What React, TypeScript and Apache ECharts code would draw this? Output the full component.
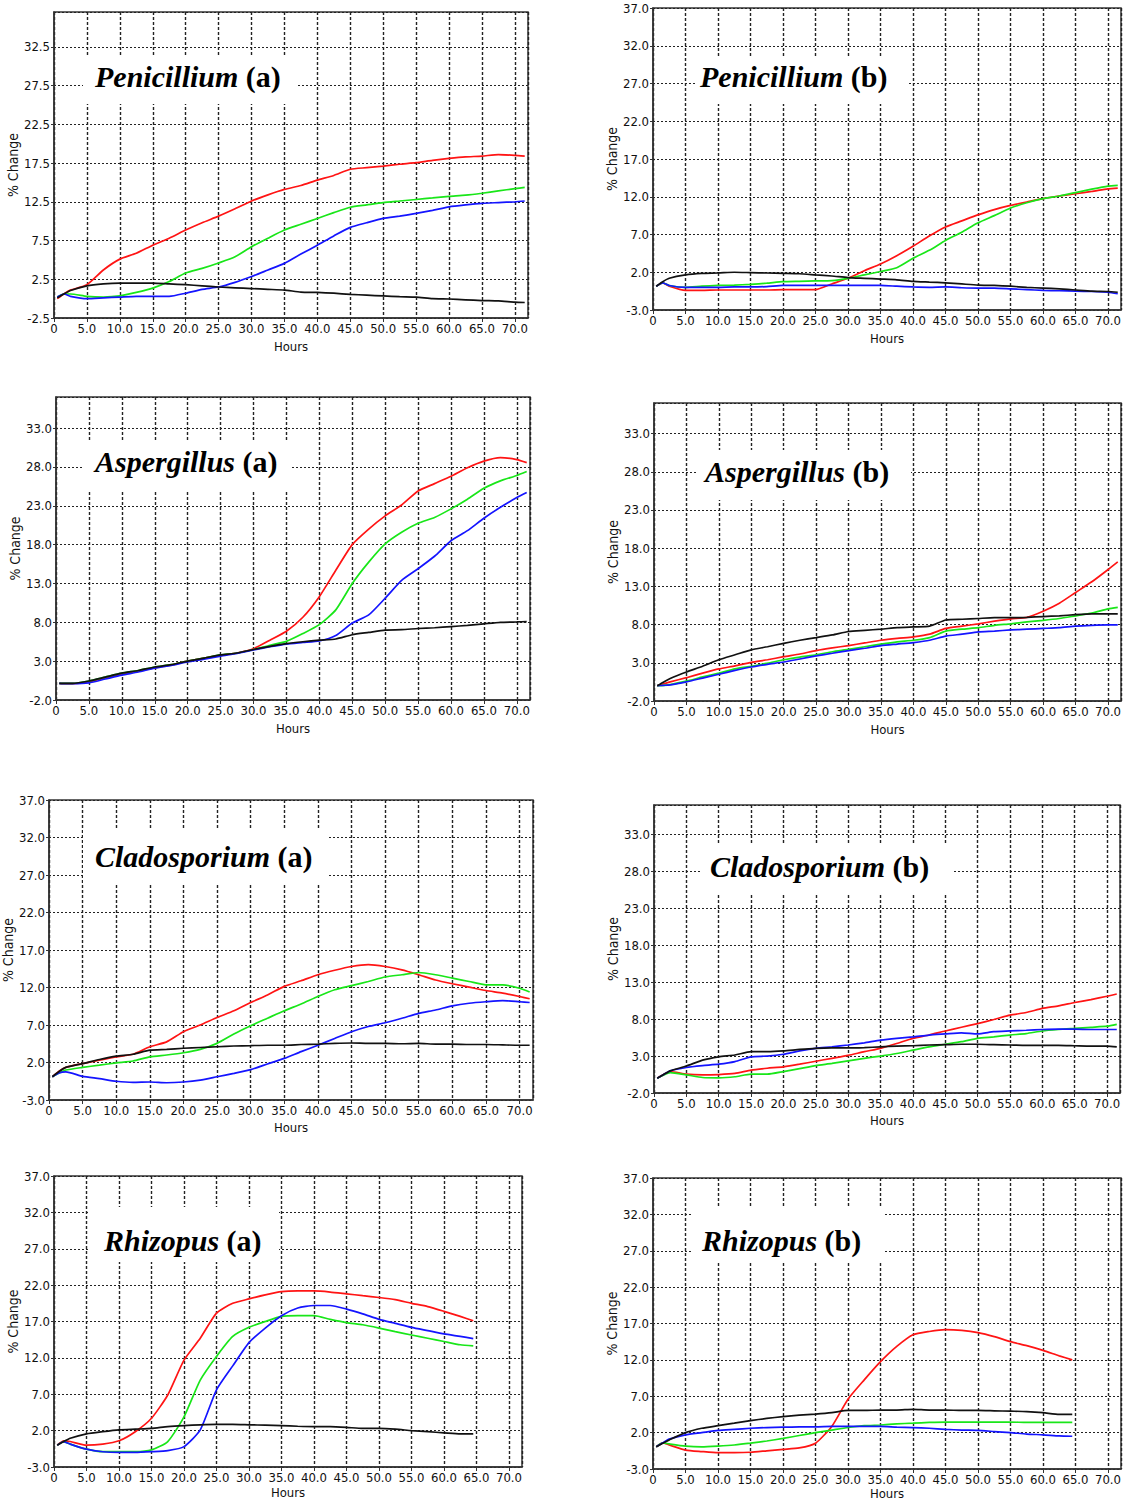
import React, { useEffect, useRef } from "react";
import * as echarts from "echarts";

// ---------- DATA ----------
const HOURS_72 = [0.5, 1.5, 2.5, 5, 7.5, 10, 12.5, 15, 17.5, 20, 22.5, 25, 27.5, 30, 32.5, 35, 37.5, 40, 42.5, 45, 47.5, 50, 52.5, 55, 57.5, 60, 62.5, 65, 67.5, 70, 71.5];
const HOURS_65 = [0.5, 1.5, 2.5, 5, 7.5, 10, 12.5, 15, 17.5, 20, 22.5, 25, 27.5, 30, 32.5, 35, 37.5, 40, 42.5, 45, 47.5, 50, 52.5, 55, 57.5, 60, 62.5, 64.5];

// Penicillium (a)
const PEN_A_RED = [0.0, 0.6, 1.1, 1.8, 3.7, 5.1, 5.85, 6.9, 7.8, 8.85, 9.8, 10.65, 11.6, 12.6, 13.4, 14.1, 14.6, 15.3, 15.9, 16.7, 16.9, 17.1, 17.35, 17.55, 17.85, 18.1, 18.3, 18.4, 18.6, 18.5, 18.4];
const PEN_A_GREEN = [0.2, 0.6, 0.6, 0.3, 0.2, 0.35, 0.8, 1.35, 2.2, 3.3, 3.9, 4.6, 5.4, 6.7, 7.8, 8.85, 9.6, 10.35, 11.1, 11.8, 12.1, 12.4, 12.6, 12.8, 13.0, 13.2, 13.35, 13.6, 13.9, 14.2, 14.35];
const PEN_A_BLUE = [0.2, 0.6, 0.3, 0.0, 0.1, 0.2, 0.3, 0.3, 0.3, 0.7, 1.2, 1.5, 2.1, 2.85, 3.7, 4.55, 5.75, 6.9, 8.1, 9.2, 9.8, 10.35, 10.65, 11.0, 11.4, 11.85, 12.1, 12.3, 12.4, 12.5, 12.6];
const PEN_A_BLACK = [0.1, 0.6, 1.05, 1.65, 1.9, 2.0, 2.0, 2.0, 1.9, 1.8, 1.65, 1.5, 1.4, 1.3, 1.2, 1.1, 0.85, 0.8, 0.7, 0.55, 0.45, 0.35, 0.25, 0.2, 0.0, -0.05, -0.15, -0.25, -0.3, -0.45, -0.5];

// Penicillium (b)
const PEN_B_RED = [0.15, 0.6, 0.15, -0.4, -0.4, -0.35, -0.35, -0.35, -0.35, -0.3, -0.3, -0.3, 0.45, 1.2, 2.2, 3.1, 4.2, 5.45, 6.8, 8.0, 8.8, 9.6, 10.3, 10.85, 11.3, 11.75, 12.1, 12.4, 12.7, 13.05, 13.15];
const PEN_B_GREEN = [0.15, 0.6, 0.25, 0.0, 0.15, 0.25, 0.3, 0.4, 0.55, 0.75, 0.8, 0.85, 0.9, 1.2, 1.65, 2.1, 2.6, 3.85, 4.9, 6.2, 7.3, 8.55, 9.5, 10.5, 11.2, 11.75, 12.1, 12.55, 13.0, 13.4, 13.5];
const PEN_B_BLUE = [0.15, 0.6, 0.25, 0.0, 0.0, 0.0, 0.05, 0.05, 0.1, 0.25, 0.25, 0.25, 0.25, 0.25, 0.25, 0.25, 0.15, 0.05, 0.0, 0.05, -0.05, -0.1, -0.1, -0.2, -0.3, -0.4, -0.45, -0.5, -0.55, -0.65, -0.85];
const PEN_B_BLACK = [0.15, 0.75, 1.2, 1.65, 1.85, 1.9, 2.0, 1.95, 1.9, 1.85, 1.8, 1.65, 1.5, 1.3, 1.2, 1.1, 1.0, 0.8, 0.7, 0.6, 0.45, 0.3, 0.25, 0.15, 0.0, -0.1, -0.2, -0.35, -0.5, -0.55, -0.65];

// Aspergillus (a)
const ASP_A_RED = [0.15, 0.1, 0.1, 0.35, 0.85, 1.35, 1.75, 2.15, 2.5, 3.0, 3.4, 3.75, 4.05, 4.6, 5.7, 6.85, 8.65, 11.3, 14.7, 18.0, 20.0, 21.7, 23.1, 24.9, 25.85, 26.8, 27.9, 28.75, 29.2, 28.95, 28.55];
const ASP_A_GREEN = [0.15, 0.15, 0.15, 0.45, 0.95, 1.45, 1.8, 2.25, 2.55, 3.0, 3.4, 3.8, 4.05, 4.5, 5.05, 5.55, 6.55, 7.7, 9.6, 13.0, 15.75, 18.1, 19.6, 20.75, 21.5, 22.6, 23.85, 25.25, 26.2, 26.9, 27.4];
const ASP_A_BLUE = [0.15, 0.1, 0.1, 0.2, 0.7, 1.2, 1.6, 2.1, 2.45, 2.9, 3.25, 3.65, 4.0, 4.45, 4.85, 5.2, 5.4, 5.6, 6.3, 7.9, 8.95, 11.1, 13.4, 14.9, 16.5, 18.5, 19.8, 21.4, 22.8, 24.05, 24.7];
const ASP_A_BLACK = [0.15, 0.15, 0.15, 0.45, 0.95, 1.45, 1.8, 2.25, 2.55, 3.0, 3.4, 3.8, 4.05, 4.5, 4.9, 5.25, 5.5, 5.7, 5.85, 6.4, 6.7, 7.0, 7.05, 7.2, 7.3, 7.45, 7.6, 7.8, 8.0, 8.05, 8.1];

// Aspergillus (b)
const ASP_B_RED = [0.0, 0.25, 0.5, 1.05, 1.65, 2.2, 2.6, 3.05, 3.4, 3.8, 4.15, 4.6, 4.95, 5.25, 5.6, 5.95, 6.2, 6.4, 6.75, 7.5, 7.8, 8.1, 8.45, 8.75, 8.95, 9.75, 10.8, 12.2, 13.6, 15.2, 16.2];
const ASP_B_GREEN = [0.0, 0.05, 0.15, 0.6, 1.15, 1.65, 2.2, 2.55, 2.95, 3.4, 3.75, 4.05, 4.45, 4.75, 5.1, 5.45, 5.75, 5.95, 6.3, 7.15, 7.4, 7.6, 7.9, 8.1, 8.35, 8.55, 8.8, 9.15, 9.5, 10.05, 10.25];
const ASP_B_BLUE = [0.0, 0.05, 0.1, 0.5, 1.0, 1.5, 2.0, 2.45, 2.8, 3.1, 3.5, 3.9, 4.25, 4.6, 4.9, 5.25, 5.45, 5.65, 5.95, 6.5, 6.75, 7.05, 7.15, 7.3, 7.4, 7.5, 7.6, 7.8, 7.9, 7.95, 7.95];
const ASP_B_BLACK = [0.0, 0.5, 0.95, 1.8, 2.55, 3.4, 4.05, 4.7, 5.1, 5.55, 5.95, 6.3, 6.65, 7.1, 7.25, 7.4, 7.6, 7.7, 7.8, 8.6, 8.7, 8.8, 8.9, 8.9, 8.95, 9.05, 9.15, 9.3, 9.4, 9.4, 9.4];

// Cladosporium (a)
const CLA_A_RED = [0.1, 0.85, 1.35, 1.85, 2.3, 2.75, 3.1, 4.1, 4.75, 6.1, 7.0, 8.0, 8.9, 10.0, 11.0, 12.15, 12.9, 13.7, 14.3, 14.8, 15.05, 14.8, 14.35, 13.7, 13.0, 12.5, 12.05, 11.6, 11.25, 10.8, 10.5];
const CLA_A_GREEN = [0.1, 0.6, 1.0, 1.35, 1.65, 1.95, 2.2, 2.75, 3.0, 3.3, 3.75, 4.55, 5.8, 6.9, 7.9, 8.9, 9.8, 10.8, 11.7, 12.25, 12.8, 13.4, 13.7, 14.0, 13.7, 13.25, 12.8, 12.35, 12.35, 11.9, 11.4];
const CLA_A_BLUE = [0.1, 0.6, 0.75, 0.15, -0.15, -0.5, -0.65, -0.6, -0.7, -0.6, -0.35, 0.1, 0.55, 1.05, 1.8, 2.55, 3.45, 4.3, 5.2, 6.1, 6.8, 7.3, 7.9, 8.55, 9.0, 9.55, 9.9, 10.1, 10.25, 10.1, 10.0];
const CLA_A_BLACK = [0.1, 0.8, 1.35, 1.85, 2.4, 2.85, 3.1, 3.65, 3.75, 3.9, 4.0, 4.1, 4.2, 4.25, 4.3, 4.3, 4.4, 4.45, 4.55, 4.6, 4.55, 4.55, 4.5, 4.55, 4.45, 4.45, 4.4, 4.4, 4.35, 4.3, 4.3];

// Cladosporium (b)
const CLA_B_RED = [0.0, 0.5, 0.9, 0.55, 0.45, 0.5, 0.65, 1.1, 1.35, 1.55, 1.9, 2.3, 2.7, 3.1, 3.6, 4.05, 4.7, 5.4, 5.85, 6.4, 6.9, 7.4, 7.95, 8.55, 8.9, 9.45, 9.8, 10.25, 10.65, 11.1, 11.4];
const CLA_B_GREEN = [0.0, 0.45, 0.75, 0.45, 0.1, 0.05, 0.2, 0.55, 0.55, 0.9, 1.3, 1.7, 2.0, 2.35, 2.7, 3.0, 3.35, 3.8, 4.25, 4.6, 4.95, 5.4, 5.6, 5.85, 6.05, 6.4, 6.6, 6.75, 6.9, 7.05, 7.3];
const CLA_B_BLUE = [0.0, 0.5, 1.0, 1.45, 1.7, 1.9, 2.25, 2.9, 3.0, 3.25, 3.7, 4.05, 4.25, 4.5, 4.8, 5.15, 5.4, 5.6, 5.85, 6.0, 6.15, 6.0, 6.3, 6.4, 6.5, 6.6, 6.65, 6.65, 6.6, 6.6, 6.6];
const CLA_B_BLACK = [0.0, 0.5, 1.0, 1.65, 2.45, 2.9, 3.15, 3.6, 3.6, 3.7, 3.9, 4.05, 4.1, 4.1, 4.15, 4.25, 4.35, 4.4, 4.5, 4.55, 4.6, 4.6, 4.55, 4.5, 4.45, 4.45, 4.45, 4.4, 4.35, 4.35, 4.25];

// Rhizopus (a)
const RHI_A_RED = [0.0, 0.6, 0.5, 0.0, 0.15, 0.6, 1.85, 3.7, 6.9, 11.7, 14.7, 18.15, 19.5, 20.1, 20.65, 21.1, 21.2, 21.2, 21.05, 20.8, 20.55, 20.3, 20.0, 19.5, 19.05, 18.4, 17.7, 17.1];
const RHI_A_GREEN = [0.0, 0.5, 0.15, -0.55, -0.9, -0.9, -0.9, -0.65, 0.5, 3.9, 8.95, 12.2, 14.95, 16.2, 17.0, 17.7, 17.8, 17.8, 17.3, 16.85, 16.55, 16.1, 15.6, 15.15, 14.7, 14.25, 13.8, 13.65];
const RHI_A_BLUE = [0.0, 0.5, 0.15, -0.55, -0.9, -1.0, -1.0, -0.9, -0.75, -0.2, 2.1, 7.6, 10.9, 14.1, 16.1, 17.8, 18.85, 19.2, 19.2, 18.7, 18.05, 17.3, 16.75, 16.2, 15.75, 15.3, 14.95, 14.65];
const RHI_A_BLACK = [0.0, 0.5, 0.95, 1.55, 1.85, 2.1, 2.2, 2.3, 2.55, 2.7, 2.8, 2.85, 2.85, 2.8, 2.75, 2.7, 2.6, 2.55, 2.55, 2.45, 2.3, 2.3, 2.2, 2.0, 1.85, 1.7, 1.55, 1.55];

// Rhizopus (b)
const RHI_B_RED = [0.05, 0.6, 0.3, -0.4, -0.6, -0.75, -0.75, -0.7, -0.5, -0.3, -0.1, 0.55, 2.85, 6.6, 9.25, 11.75, 13.85, 15.45, 15.9, 16.15, 16.05, 15.75, 15.2, 14.5, 13.95, 13.3, 12.55, 12.0];
const RHI_B_GREEN = [0.05, 0.6, 0.45, 0.15, 0.05, 0.15, 0.3, 0.55, 0.85, 1.2, 1.6, 2.0, 2.35, 2.7, 2.95, 3.05, 3.2, 3.3, 3.4, 3.45, 3.45, 3.45, 3.45, 3.45, 3.4, 3.4, 3.4, 3.4];
const RHI_B_BLUE = [0.05, 0.6, 1.1, 1.7, 2.0, 2.3, 2.45, 2.6, 2.7, 2.75, 2.8, 2.8, 2.85, 2.85, 2.85, 2.85, 2.75, 2.7, 2.6, 2.45, 2.35, 2.3, 2.15, 2.0, 1.8, 1.7, 1.55, 1.5];
const RHI_B_BLACK = [0.05, 0.55, 1.0, 2.0, 2.6, 2.95, 3.3, 3.65, 3.95, 4.2, 4.4, 4.55, 4.75, 5.05, 5.05, 5.1, 5.1, 5.2, 5.1, 5.1, 5.05, 5.05, 5.0, 4.95, 4.9, 4.75, 4.5, 4.5];

const GENERA = ["Penicillium", "Penicillium", "Aspergillus", "Aspergillus", "Cladosporium", "Cladosporium", "Rhizopus", "Rhizopus"];
const TAGS = ["(a)", "(b)", "(a)", "(b)", "(a)", "(b)", "(a)", "(b)"];
const Y_MINS = [-2.5, -3, -2, -2, -3, -2, -3, -3];
const Y_MAX = 37;
const X_MAX = 72;
const TICK_STEP = 5;
const PANEL_HOURS = [HOURS_72, HOURS_72, HOURS_72, HOURS_72, HOURS_72, HOURS_72, HOURS_65, HOURS_65];
const PANEL_SERIES = [
  [PEN_A_RED, PEN_A_GREEN, PEN_A_BLUE, PEN_A_BLACK],
  [PEN_B_RED, PEN_B_GREEN, PEN_B_BLUE, PEN_B_BLACK],
  [ASP_A_RED, ASP_A_GREEN, ASP_A_BLUE, ASP_A_BLACK],
  [ASP_B_RED, ASP_B_GREEN, ASP_B_BLUE, ASP_B_BLACK],
  [CLA_A_RED, CLA_A_GREEN, CLA_A_BLUE, CLA_A_BLACK],
  [CLA_B_RED, CLA_B_GREEN, CLA_B_BLUE, CLA_B_BLACK],
  [RHI_A_RED, RHI_A_GREEN, RHI_A_BLUE, RHI_A_BLACK],
  [RHI_B_RED, RHI_B_GREEN, RHI_B_BLUE, RHI_B_BLACK],
];

// ---------- LAYOUT / STYLE ----------
const COLORS = ["#ff1414", "#19e619", "#1414ff", "#111111"];
const LAYOUT = [
  { grid: [54, 12, 474, 306], box: [83, 56, 213, 48], title: [95, 76], xGap: 22 },
  { grid: [653, 8, 468, 302], box: [697, 57, 211, 47], title: [700, 76], xGap: 22 },
  { grid: [56, 397, 474, 303], box: [83, 442, 208, 48], title: [95, 461], xGap: 22 },
  { grid: [654, 403, 467, 298], box: [697, 450, 214, 50], title: [705, 471], xGap: 22 },
  { grid: [49, 800, 484, 300], box: [83, 828, 246, 57], title: [95, 856], xGap: 21 },
  { grid: [654, 805, 466, 288], box: [700, 845, 253, 50], title: [710, 866], xGap: 21 },
  { grid: [54, 1176, 468, 291], box: [88, 1207, 191, 55], title: [104, 1240], xGap: 19 },
  { grid: [653, 1178, 468, 291], box: [692, 1208, 193, 54], title: [702, 1240], xGap: 18 },
];
const NARROW = "'Liberation Sans Narrow', 'Arial Narrow', 'DejaVu Sans Condensed', sans-serif";
const SERIF = "'Liberation Serif', 'Times New Roman', serif";

function buildOption() {
  const grid: any[] = [];
  const xAxis: any[] = [];
  const yAxis: any[] = [];
  const series: any[] = [];
  const graphic: any[] = [];

  LAYOUT.forEach((L, i) => {
    const [left, top, width, height] = L.grid;
    grid.push({
      left, top, width, height,
      show: true,
      borderColor: "#333",
      borderWidth: 1.5,
      backgroundColor: "transparent",
      containLabel: false,
      outerBoundsMode: "none",
    });
    xAxis.push({
      type: "value",
      gridIndex: i,
      min: 0,
      max: X_MAX,
      interval: TICK_STEP,
      name: "Hours",
      nameLocation: "middle",
      nameGap: L.xGap,
      nameTextStyle: { fontSize: 13, fontFamily: NARROW, color: "#111" },
      axisLine: { show: true, onZero: false, lineStyle: { color: "#333", width: 1.5 } },
      axisTick: { show: true, length: 4, lineStyle: { color: "#333", width: 1 } },
      axisLabel: {
        fontSize: 13,
        fontFamily: NARROW,
        color: "#111",
        margin: 4,
        showMinLabel: true,
        showMaxLabel: false,
        formatter: (v: number) => (v === 0 ? "0" : v.toFixed(1)),
      },
      splitLine: { show: true, lineStyle: { type: [3, 2], color: "#222", width: 1.4 } },
    });
    const yMin = Y_MINS[i];
    const maxIsTick = Math.abs(((Y_MAX - yMin) / TICK_STEP) % 1) < 1e-9;
    yAxis.push({
      type: "value",
      gridIndex: i,
      min: yMin,
      max: Y_MAX,
      interval: TICK_STEP,
      name: "% Change",
      nameLocation: "middle",
      nameGap: 27,
      nameTextStyle: { fontSize: 14, fontFamily: NARROW, color: "#111" },
      axisLine: { show: true, onZero: false, lineStyle: { color: "#333", width: 1.5 } },
      axisTick: { show: true, length: 3, lineStyle: { color: "#333", width: 1 } },
      axisLabel: {
        fontSize: 13,
        fontFamily: NARROW,
        color: "#111",
        margin: 4,
        showMinLabel: true,
        showMaxLabel: maxIsTick,
        formatter: (v: number) => v.toFixed(1),
      },
      splitLine: { show: true, lineStyle: { type: [2, 2], color: "#222", width: 1.2 } },
    });
    const hours = PANEL_HOURS[i];
    PANEL_SERIES[i].forEach((vals, k) => {
      series.push({
        type: "line",
        xAxisIndex: i,
        yAxisIndex: i,
        data: hours.map((h, j) => [h, vals[j]]),
        symbol: "none",
        showSymbol: false,
        smooth: 0.2,
        silent: true,
        lineStyle: { color: COLORS[k], width: 1.7 },
        itemStyle: { color: COLORS[k] },
        z: 3 + (k === 3 ? 1 : 0),
      });
    });
    const [bx, by, bw, bh] = L.box;
    graphic.push({
      type: "rect",
      z: 20,
      shape: { x: bx, y: by, width: bw, height: bh },
      style: { fill: "#ffffff" },
      silent: true,
    });
    graphic.push({
      type: "text",
      z: 21,
      x: L.title[0],
      y: L.title[1],
      silent: true,
      style: {
        text: `{i|${GENERA[i]}} {b|${TAGS[i]}}`,
        fill: "#000",
        fontSize: 30,
        fontWeight: "bold",
        fontFamily: SERIF,
        align: "left",
        verticalAlign: "middle",
        rich: {
          i: { fontStyle: "italic", fontWeight: "bold", fontSize: 30, fontFamily: SERIF, fill: "#000" },
          b: { fontStyle: "normal", fontWeight: "bold", fontSize: 30, fontFamily: SERIF, fill: "#000" },
        },
      },
    });
  });

  return {
    animation: false,
    backgroundColor: "#ffffff",
    grid,
    xAxis,
    yAxis,
    series,
    graphic,
  };
}

export default function App() {
  const ref = useRef<HTMLDivElement>(null);
  useEffect(() => {
    if (!ref.current) return;
    const chart = echarts.init(ref.current, undefined, { renderer: "svg" });
    chart.setOption(buildOption() as any);
    return () => chart.dispose();
  }, []);
  return (
    <div
      ref={ref}
      style={{ position: "fixed", left: 0, top: 0, width: 1126, height: 1503, background: "#fff" }}
    />
  );
}
